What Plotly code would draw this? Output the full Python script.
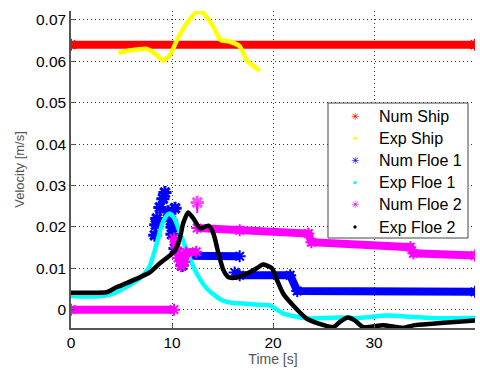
import plotly.graph_objects as go

# ---- data -------------------------------------------------------------
# Num Ship (constant speed)
num_ship_t = [0, 40]
num_ship_v = [0.064, 0.064]

# Exp Ship
exp_ship_t = [4.7, 5.5, 6.3, 7.0, 7.5, 8.5, 9.1, 9.8, 10.5, 11.5, 12.5, 13.1,
              14.1, 14.8, 15.7, 16.7, 17.4, 18.0, 18.7]
exp_ship_v = [0.0620, 0.0625, 0.0628, 0.0630, 0.0630, 0.0615, 0.0602, 0.0615,
              0.0652, 0.0693, 0.0720, 0.0716, 0.0684, 0.0652, 0.0648, 0.0636,
              0.0603, 0.0590, 0.0577]

# Num Floe 1: scattered points at impact, then two plateaus
num_f1_pts_t = [9.3, 9.1, 8.8, 10.3, 8.5, 9.6, 10.0, 8.3, 10.0, 10.3, 11.0, 8.4, 9.9]
num_f1_pts_v = [0.0283, 0.0268, 0.0247, 0.0245, 0.0220, 0.0236, 0.0199, 0.0180,
                0.0182, 0.0148, 0.0107, 0.0205, 0.0215]
num_f1_a_t = [11.2, 16.7]
num_f1_a_v = [0.0130, 0.0129]
num_f1_b_t = [16.2, 16.7, 21.7, 22.4, 40.0]
num_f1_b_v = [0.0090, 0.0083, 0.0083, 0.0045, 0.0043]

# Exp Floe 1
exp_f1_t = [0, 1, 2, 3, 3.8, 4.5, 5.5, 6.5, 7.2, 7.8, 8.2, 8.6, 9.0, 9.4, 9.7,
            10.0, 10.4, 10.8, 11.2, 11.6, 12.0, 12.5, 13.0, 13.5, 14.2, 15.0,
            16.0, 17.0, 18.5, 19.7, 21.0, 23.3, 26.6, 28.6, 31.3, 33.9, 36.5,
            39.5, 40.0]
exp_f1_v = [0.0033, 0.0032, 0.0032, 0.0033, 0.0036, 0.0042, 0.0055, 0.0070,
            0.0085, 0.0105, 0.0135, 0.0170, 0.0205, 0.0225, 0.0232, 0.0228,
            0.0212, 0.0185, 0.0160, 0.0135, 0.0110, 0.0085, 0.0065, 0.0050,
            0.0035, 0.0022, 0.0016, 0.0015, 0.0012, 0.0010, -0.0009, -0.0021,
            -0.0019, -0.0020, -0.0014, -0.0018, -0.0021, -0.0020, -0.0020]

# Num Floe 2: at rest, transition cluster, isolated peak, then plateau
num_f2_a_t = [0, 10.2]
num_f2_a_v = [0.0, 0.0]
num_f2_b_t = [10.2, 10.4, 10.6, 10.9, 11.2, 11.4, 12.4]
num_f2_b_v = [0.0172, 0.0150, 0.0125, 0.0105, 0.0115, 0.0138, 0.0140]
num_f2_c_t = [12.5, 12.5]
num_f2_c_v = [0.0259, 0.0233]
num_f2_d_t = [12.5, 16.7, 23.5, 23.8, 33.6, 33.9, 40.0]
num_f2_d_v = [0.0197, 0.0192, 0.0184, 0.0163, 0.0151, 0.0136, 0.0131]

# Exp Floe 2
exp_f2_t = [0, 2, 3.5, 4.5, 5.5, 6.8, 7.8, 8.8, 9.8, 10.3, 10.8, 11.1, 11.6,
            12.1, 12.8, 13.6, 14.1, 14.6, 15.1, 15.6, 16.2, 16.7, 17.5, 18.4,
            19.0, 19.9, 20.4, 21.0, 22.0, 23.3, 24.7, 26.0, 26.6, 27.4, 28.1,
            28.9, 30.9, 32.9, 33.9, 35.8, 38.0, 40.0]
exp_f2_v = [0.0041, 0.0041, 0.0042, 0.0054, 0.0064, 0.0078, 0.0090, 0.0112,
            0.0131, 0.0143, 0.0175, 0.0208, 0.0235, 0.0221, 0.0196, 0.0203,
            0.0184, 0.0136, 0.0095, 0.0078, 0.0077, 0.0080, 0.0088, 0.0100,
            0.0109, 0.0100, 0.0071, 0.0039, 0.0010, -0.0021, -0.0035, -0.0042,
            -0.0030, -0.0019, -0.0026, -0.0042, -0.0038, -0.0044, -0.0038,
            -0.0034, -0.0030, -0.0026]

x_ticks = [0, 10, 20, 30, 40]
y_ticks = [0, 0.01, 0.02, 0.03, 0.04, 0.05, 0.06, 0.07]
y_tick_text = ["0", "0.01", "0.02", "0.03", "0.04", "0.05", "0.06", "0.07"]

legend_names = ["Num Ship", "Exp Ship", "Num Floe 1", "Exp Floe 1", "Num Floe 2", "Exp Floe 2"]

RED, YELLOW, BLUE, CYAN, MAGENTA, BLACK = "#ff0000", "#ffff00", "#0000ff", "#00ffff", "#ff00ff", "#000000"
legend_colors = [RED, YELLOW, BLUE, CYAN, MAGENTA, BLACK]
legend_is_star = [True, False, True, False, True, False]
FONT = "Arial, Liberation Sans, sans-serif"

# plot area in pixels (figure is 480 x 371)
PL, PR, PT, PB = 71, 475, 11, 328


def px_x(px):
    """Pixel column -> paper (plot-area) fraction."""
    return (px - PL) / (PR - PL)


def px_y(py):
    """Pixel row -> paper (plot-area) fraction."""
    return (PB - py) / (PB - PT)


fig = go.Figure()


def star_band(t, v, color, width=8, size=10):
    """Thick band of '*' markers."""
    fig.add_trace(go.Scatter(
        x=t, y=v, mode="lines+markers", showlegend=False, hoverinfo="skip",
        line=dict(color=color, width=width),
        marker=dict(symbol="asterisk-open", size=size, color=color,
                    line=dict(color=color, width=2)),
    ))


def star_points(t, v, color, size=11):
    fig.add_trace(go.Scatter(
        x=t, y=v, mode="markers", showlegend=False, hoverinfo="skip",
        marker=dict(symbol="asterisk-open", size=size, color=color,
                    line=dict(color=color, width=3)),
    ))


def dot_line(t, v, color, width=4.5):
    fig.add_trace(go.Scatter(
        x=t, y=v, mode="lines", showlegend=False, hoverinfo="skip",
        line=dict(color=color, width=width, shape="spline", smoothing=0.6),
    ))


# drawing order: ship, floe 1, floe 2 (numerical first, then experimental)
star_band(num_ship_t, num_ship_v, RED)
dot_line(exp_ship_t, exp_ship_v, YELLOW)
star_points(num_f1_pts_t, num_f1_pts_v, BLUE)
star_band(num_f1_a_t, num_f1_a_v, BLUE)
star_band(num_f1_b_t, num_f1_b_v, BLUE)
dot_line(exp_f1_t, exp_f1_v, CYAN)
star_band(num_f2_a_t, num_f2_a_v, MAGENTA)
star_band(num_f2_b_t, num_f2_b_v, MAGENTA)
fig.add_trace(go.Scatter(
    x=num_f2_c_t, y=num_f2_c_v, mode="lines+markers", showlegend=False, hoverinfo="skip",
    line=dict(color=MAGENTA, width=2),
    marker=dict(symbol="asterisk-open", size=[11, 0], color=MAGENTA,
                line=dict(color=MAGENTA, width=3)),
))
star_band(num_f2_d_t, num_f2_d_v, MAGENTA)
dot_line(exp_f2_t, exp_f2_v, BLACK)

# ---- legend: white box, '*' glyphs, small dot shapes, labels -----------
LX0, LX1, LY0, LY1 = 328, 468, 103, 238
ROW0, ROW_STEP = 116, 22.2
SYM_X, TXT_X = 355, 377
DOT_R = 1.7
rows = [ROW0 + i * ROW_STEP for i in range(len(legend_names))]

shapes = [dict(type="rect", xref="paper", yref="paper",
               x0=px_x(LX0), x1=px_x(LX1), y0=px_y(LY1), y1=px_y(LY0),
               fillcolor="white", line=dict(color="#444444", width=1), layer="above")]
annotations = []
for y_row, name, color, is_star in zip(rows, legend_names, legend_colors, legend_is_star):
    if is_star:
        annotations.append(dict(
            x=px_x(SYM_X), y=px_y(y_row), xref="paper", yref="paper",
            text="\u2733", showarrow=False, xanchor="center", yanchor="middle",
            font=dict(family="DejaVu Sans", size=10, color=color)))
    else:
        shapes.append(dict(
            type="circle", xref="paper", yref="paper", layer="above",
            x0=px_x(SYM_X - DOT_R), x1=px_x(SYM_X + DOT_R),
            y0=px_y(y_row + DOT_R), y1=px_y(y_row - DOT_R),
            fillcolor=color, line=dict(width=0)))
    annotations.append(dict(
        x=px_x(TXT_X), y=px_y(y_row), xref="paper", yref="paper",
        text=name, showarrow=False, xanchor="left", yanchor="middle",
        font=dict(family=FONT, size=16, color="#000000")))

grid = dict(showgrid=True, gridcolor="#333333", gridwidth=1, griddash="1px,3px",
            zeroline=False, showline=True, linecolor="#555555", linewidth=1.5,
            ticks="inside", ticklen=4, tickcolor="#555555",
            tickfont=dict(family=FONT, size=15.5, color="#000000"))

fig.update_layout(
    width=480, height=371,
    margin=dict(l=PL, r=480 - PR, t=PT, b=371 - PB),
    paper_bgcolor="white", plot_bgcolor="white",
    font=dict(family=FONT),
    showlegend=False,
    xaxis=dict(range=[0, 40], tickvals=x_ticks, ticktext=[str(v) for v in x_ticks],
               title=dict(text="Time [s]", font=dict(family=FONT, size=14, color="#555555"),
                          standoff=4),
               **grid),
    yaxis=dict(range=[-0.00444, 0.07217], tickvals=y_ticks, ticktext=y_tick_text,
               title=dict(text="Velocity [m/s]", font=dict(family=FONT, size=13, color="#555555"),
                          standoff=8),
               **grid),
    shapes=shapes,
    annotations=annotations,
)

fig.write_html("out.html")
